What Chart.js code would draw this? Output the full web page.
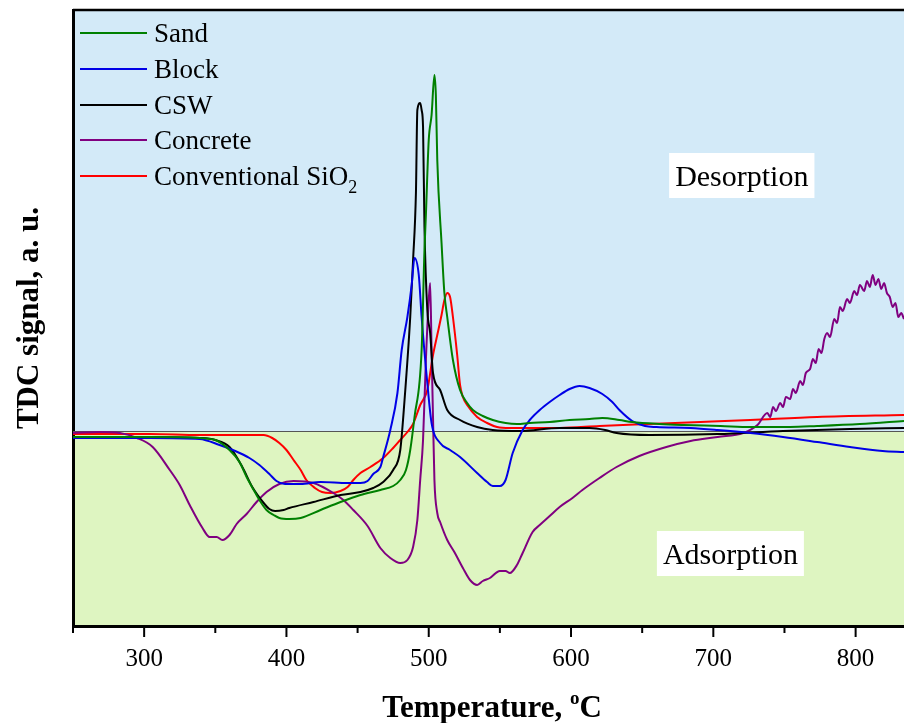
<!DOCTYPE html>
<html>
<head>
<meta charset="utf-8">
<script src="https://cdn.jsdelivr.net/npm/chart.js@4.4.1/dist/chart.umd.min.js"></script>
<style>
  html, body { margin: 0; padding: 0; background: #fff; }
  canvas { display: block; }
</style>
</head>
<body>
<canvas id="tdcChart" width="904" height="723"></canvas>
<script>
// TDC signal (a. u., zero = baseline) vs temperature
const sandT = [250, 304, 339, 350, 360, 367, 372, 377, 381, 386, 391, 395, 402, 410, 424, 438, 452, 466, 475, 480, 484, 487, 490, 495, 497, 498, 500, 502, 504, 505, 506, 509, 511, 513, 517, 522, 527, 531, 538, 545, 554, 562, 571, 585, 599, 613, 622, 634, 643, 662, 679, 705, 726, 754, 773, 803, 834];
const sandY = [-6, -6, -7, -9, -19, -31, -46, -59, -69, -79, -84, -87, -88, -87, -79, -71, -64, -59, -55, -49, -39, -19, 14, 81, 181, 216, 291, 316, 356, 336, 271, 188, 138, 114, 71, 41, 28, 21, 15, 11, 8, 7, 8, 9, 11, 12, 13, 11, 9, 7, 6, 5, 4, 4, 5, 7, 10];

const blockT = [250, 304, 339, 353, 364, 374, 381, 388, 393, 399, 410, 424, 443, 452, 457, 461, 466, 468, 473, 478, 481, 485, 488, 490, 493, 495, 499, 502, 508, 515, 522, 534, 541, 545, 550, 554, 559, 566, 571, 578, 585, 592, 599, 606, 613, 622, 629, 634, 643, 652, 660, 684, 703, 726, 749, 773, 796, 819, 834];
const blockY = [-7, -7, -8, -14, -20, -27, -34, -43, -50, -53, -53, -51, -52, -52, -50, -43, -36, -26, 1, 38, 81, 114, 146, 173, 156, 114, 48, 8, -12, -19, -26, -42, -51, -55, -55, -49, -22, 1, 11, 21, 29, 36, 42, 45, 43, 37, 29, 21, 10, 5, 4, 3, 1, -2, -6, -11, -16, -20, -21];

const cswT = [250, 304, 339, 350, 360, 369, 376, 384, 388, 392, 398, 402, 419, 438, 452, 461, 468, 475, 480, 483, 487, 489, 491, 492, 494, 495, 496, 497, 499, 501, 503, 508, 513, 522, 534, 545, 564, 592, 613, 624, 632, 655, 703, 749, 796, 834];
const cswY = [-6, -6, -7, -9, -16, -36, -56, -72, -78, -80, -79, -77, -71, -64, -61, -57, -51, -39, -19, 31, 114, 171, 238, 321, 328, 321, 304, 204, 121, 98, 58, 41, 21, 11, 4, 1, 0, 3, 3, 1, -2, -4, -3, 0, 2, 3];

const concreteT = [250, 269, 283, 295, 306, 318, 325, 332, 341, 346, 351, 355, 360, 365, 372, 379, 386, 395, 405, 419, 433, 440, 447, 457, 466, 473, 480, 485, 489, 492, 494, 496, 498, 500, 501, 502, 503, 504, 506, 508, 513, 518, 524, 529, 534, 538, 543, 550, 554, 557, 562, 566, 573, 578, 585, 592, 601, 608, 620, 632, 648, 667, 684, 703, 721, 731, 738, 740, 742, 744, 747, 749, 751, 754, 756, 758, 761, 763, 765, 768, 770, 772, 774, 776, 778, 780, 782, 785, 787, 789, 791, 794, 796, 799, 801, 803, 806, 808, 810, 812, 814, 816, 818, 820, 822, 824, 826, 828, 830, 832, 834];
const concreteY = [-2, -1, -2, -7, -16, -39, -54, -74, -97, -106, -106, -109, -104, -93, -83, -71, -61, -53, -50, -52, -62, -69, -79, -95, -117, -127, -132, -129, -116, -89, -49, -9, 71, 131, 148, 81, 14, -49, -82, -91, -109, -121, -137, -149, -154, -150, -147, -140, -140, -142, -134, -122, -101, -94, -85, -76, -67, -59, -47, -36, -25, -16, -10, -6, -2, 6, 18, 14, 24, 20, 28, 24, 34, 32, 42, 38, 50, 46, 58, 62, 72, 68, 82, 78, 92, 98, 94, 112, 108, 124, 120, 132, 128, 140, 136, 146, 140, 150, 144, 156, 146, 152, 142, 148, 138, 134, 124, 128, 114, 118, 112];

const silicaT = [250, 304, 339, 384, 390, 395, 400, 405, 410, 414, 420, 425, 431, 438, 443, 447, 452, 459, 468, 475, 480, 485, 489, 494, 499, 503, 506, 509, 511, 513, 515, 517, 520, 522, 524, 527, 534, 541, 548, 557, 592, 620, 655, 691, 726, 773, 834];
const silicaY = [-3, -3, -4, -4, -7, -12, -19, -29, -39, -49, -57, -61, -62, -60, -56, -49, -42, -36, -27, -17, -9, -1, 7, 26, 41, 76, 96, 116, 131, 138, 134, 114, 76, 46, 34, 26, 14, 8, 4, 3, 3, 5, 7, 9, 11, 14, 16];

const seriesNames = ['Sand', 'Block', 'CSW', 'Concrete', 'Conventional SiO'];
const seriesColors = ['#008000', '#0000e6', '#000000', '#800080', '#ff0000'];
const xTickValues = [300, 400, 500, 600, 700, 800];

const toPoints = (xs, ys) => xs.map((x, i) => ({ x: x, y: ys[i] }));
const seriesData = [
    toPoints(sandT, sandY),
    toPoints(blockT, blockY),
    toPoints(cswT, cswY),
    toPoints(concreteT, concreteY),
    toPoints(silicaT, silicaY)
];

const serif = '"Liberation Serif", "Times New Roman", serif';

// background bands, zero line, frame, ticks, legend and labels
const decor = {
    id: 'decor',
    beforeDraw(chart) {
        const { ctx, chartArea: a, scales: { y } } = chart;
        const zy = y.getPixelForValue(0);
        ctx.save();
        ctx.fillStyle = '#d3eaf8';
        ctx.fillRect(a.left, a.top, a.right - a.left, zy - a.top);
        ctx.fillStyle = '#def5c1';
        ctx.fillRect(a.left, zy, a.right - a.left, a.bottom - zy);
        ctx.restore();
    },
    beforeDatasetsDraw(chart) {
        const { ctx, chartArea: a, scales: { y } } = chart;
        const zy = Math.round(y.getPixelForValue(0)) + 0.5;
        ctx.save();
        ctx.strokeStyle = '#555';
        ctx.lineWidth = 1;
        ctx.beginPath();
        ctx.moveTo(a.left, zy);
        ctx.lineTo(a.right, zy);
        ctx.stroke();
        ctx.restore();
    },
    afterDraw(chart) {
        const { ctx, chartArea: a, scales: { x, y } } = chart;
        ctx.save();

        // top frame line
        ctx.strokeStyle = '#000';
        ctx.lineWidth = 2.5;
        ctx.beginPath();
        ctx.moveTo(a.left, a.top);
        ctx.lineTo(a.right, a.top);
        ctx.stroke();

        // tick marks, long on the hundreds
        ctx.lineWidth = 2;
        for (let v = 250; v <= 800; v += 50) {
            const px = x.getPixelForValue(v);
            const len = v % 100 === 0 ? 11 : 7;
            ctx.beginPath();
            ctx.moveTo(px, a.bottom);
            ctx.lineTo(px, a.bottom + len);
            ctx.stroke();
        }

        // legend
        ctx.textAlign = 'left';
        ctx.textBaseline = 'alphabetic';
        const rows = [33, 69, 105, 140, 176];
        seriesNames.forEach((name, i) => {
            ctx.strokeStyle = seriesColors[i];
            ctx.lineWidth = 2;
            ctx.beginPath();
            ctx.moveTo(80, rows[i]);
            ctx.lineTo(147, rows[i]);
            ctx.stroke();
            ctx.fillStyle = '#000';
            ctx.font = '27px ' + serif;
            ctx.fillText(name, 154, rows[i] + 9);
            if (i === 4) {
                const w = ctx.measureText(name).width;
                ctx.font = '18px ' + serif;
                ctx.fillText('2', 154 + w, rows[i] + 17);
            }
        });

        // region labels on white boxes
        const label = (text, tx, ty) => {
            const cx = x.getPixelForValue(tx);
            const cy = y.getPixelForValue(ty);
            ctx.font = '30px ' + serif;
            const w = ctx.measureText(text).width;
            ctx.fillStyle = '#fff';
            ctx.fillRect(cx - w / 2 - 6, cy - 22, w + 12, 45);
            ctx.fillStyle = '#000';
            ctx.textAlign = 'center';
            ctx.fillText(text, cx, cy + 11);
        };
        label('Desorption', 720, 256);
        label('Adsorption', 712, -122);

        // axis titles
        ctx.fillStyle = '#000';
        ctx.font = 'bold 31px ' + serif;
        ctx.save();
        ctx.translate(38, (a.top + a.bottom) / 2);
        ctx.rotate(-Math.PI / 2);
        ctx.textAlign = 'center';
        ctx.fillText('TDC signal, a. u.', 0, 0);
        ctx.restore();

        ctx.textAlign = 'left';
        const main = 'Temperature, ';
        ctx.font = 'bold 31px ' + serif;
        const w1 = ctx.measureText(main).width;
        const w3 = ctx.measureText('C').width;
        ctx.font = 'bold 19px ' + serif;
        const w2 = ctx.measureText('o').width;
        let sx = 492 - (w1 + w2 + w3) / 2;
        ctx.font = 'bold 31px ' + serif;
        ctx.fillText(main, sx, 717);
        ctx.font = 'bold 19px ' + serif;
        ctx.fillText('o', sx + w1, 704);
        ctx.font = 'bold 31px ' + serif;
        ctx.fillText('C', sx + w1 + w2, 717);

        ctx.restore();
    }
};

const ctx = document.getElementById('tdcChart').getContext('2d');
const chart = new Chart(ctx, {
    type: 'line',
    data: {
        datasets: seriesData.map((pts, i) => ({
            label: seriesNames[i],
            data: pts,
            borderColor: seriesColors[i],
            borderWidth: 2,
            pointRadius: 0,
            fill: false,
            cubicInterpolationMode: 'monotone'
        }))
    },
    options: {
        responsive: false,
        devicePixelRatio: 1,
        animation: false,
        layout: { padding: { top: 10, right: 0, left: 0, bottom: 0 } },
        plugins: {
            legend: { display: false },
            tooltip: { enabled: false }
        },
        scales: {
            x: {
                type: 'linear',
                min: 250,
                max: 834,
                afterFit: s => { s.height = 97; },
                afterBuildTicks: s => { s.ticks = xTickValues.map(v => ({ value: v })); },
                ticks: {
                    color: '#000',
                    font: { family: serif, size: 25 },
                    padding: 18,
                    maxRotation: 0,
                    autoSkip: false
                },
                grid: { display: true, drawOnChartArea: false, drawTicks: false },
                border: { display: true, color: '#000', width: 3 }
            },
            y: {
                min: -195,
                max: 421,
                afterFit: s => { s.width = 73; },
                ticks: { display: false },
                grid: { display: false },
                border: { display: true, color: '#000', width: 3 }
            }
        }
    },
    plugins: [decor]
});
</script>
</body>
</html>
